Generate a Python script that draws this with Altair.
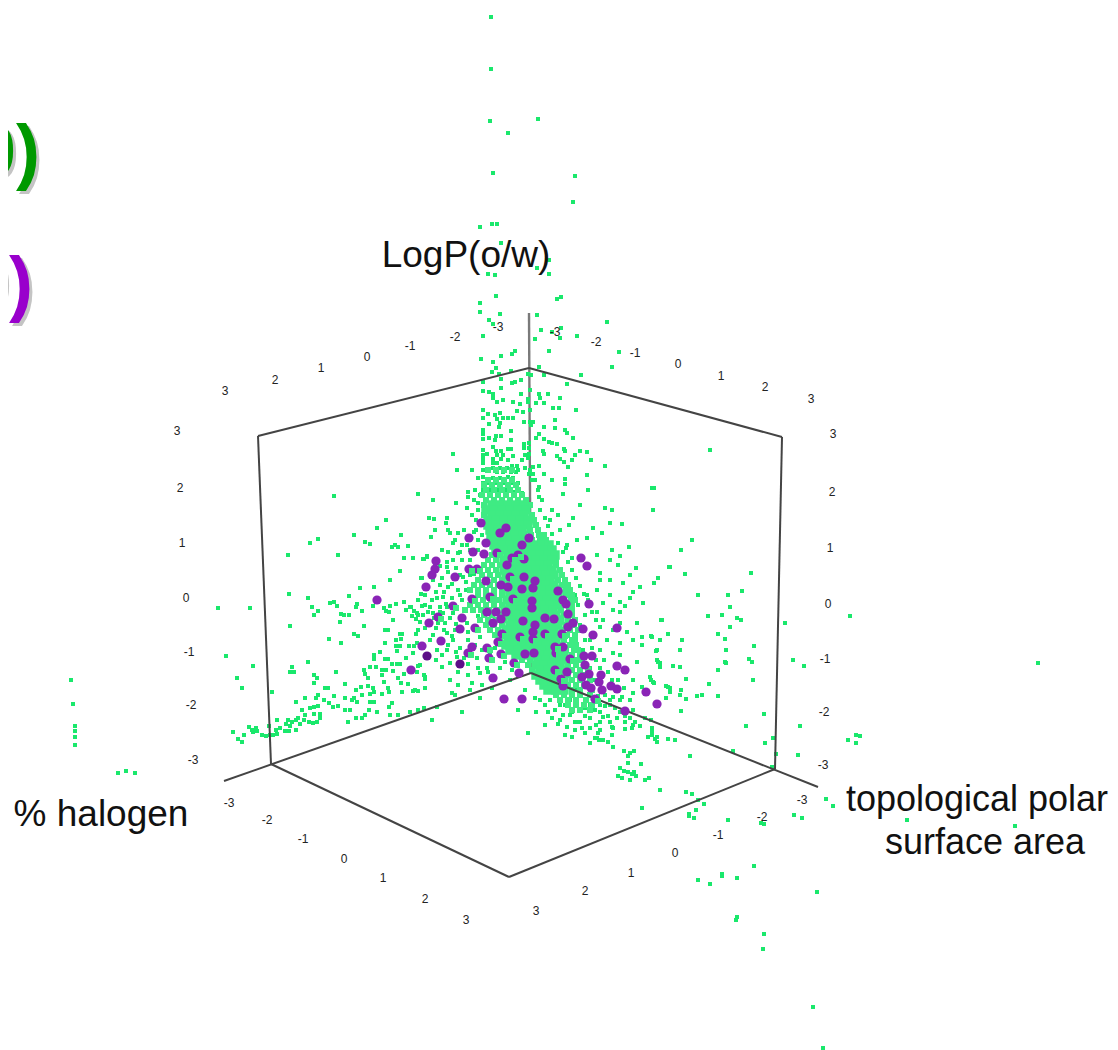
import altair as alt
import pandas as pd

X_DOMAIN = [8, 1110]
Y_DOMAIN = [1050, 8]

TOP_SPRAY = [(491,17),(491,69),(490,121),(508,133),(538,119),(493,173),(575,176),(573,202),(480,227),(492,224),(497,224),(501,243),(549,260),(537,268),(549,274),(488,274),(495,275),(496,296),(557,299),(561,297),(480,303),(480,312),(500,314),(537,315),(489,320),(493,324),(541,330),(552,332),(561,328),(483,336),(535,339),(560,338),(577,336),(607,322),(549,351),(619,352),(612,367),(481,359),(501,356),(512,354),(515,351),(493,362),(496,368),(539,367),(492,372),(499,374),(511,371),(528,374),(531,375),(544,375),(581,375),(483,382),(501,379),(512,383),(515,382),(521,380),(567,384),(483,391),(501,388),(489,392),(493,394),(521,394),(530,390),(539,394),(548,394),(493,398),(560,398),(497,402),(503,400),(513,402),(528,399),(528,402),(536,403),(540,398),(544,403),(520,404),(483,410),(553,408),(559,408),(576,410),(517,411),(523,412),(530,410),(488,414),(483,418),(495,415),(500,413),(497,419),(503,418),(508,418),(513,418),(500,423),(489,424),(524,422),(530,422),(533,422),(555,420),(499,427),(544,427),(555,428),(565,430),(483,430),(511,431),(531,425),(567,433),(483,434),(496,436),(501,436),(489,438),(483,439),(495,440),(511,440),(536,438),(539,434),(544,439),(573,438),(549,442),(552,443),(557,444),(524,444),(529,443),(493,447),(508,449),(511,449),(524,448),(529,448),(564,449),(483,450),(496,451),(501,451),(543,451),(565,451),(580,451),(587,452),(453,454),(544,454),(483,455),(487,454),(497,455),(503,455),(513,456),(525,455),(529,454),(557,456),(575,455),(483,459),(493,459),(501,459),(508,460),(528,458),(560,459),(564,462),(572,460),(591,460),(457,470),(483,463),(493,463),(497,463),(512,466),(517,466),(568,467),(605,466),(525,468),(533,467),(539,466),(587,475),(493,468),(500,468),(507,468),(483,470),(487,471),(497,472),(503,472),(511,472),(516,472),(529,474),(533,474),(544,474),(565,479),(552,480),(483,477),(493,478),(500,478),(508,477),(513,478),(532,480),(483,483),(488,483),(497,483),(503,483),(512,483),(518,483),(565,484),(539,487),(468,492),(468,497),(483,490),(490,490),(498,490),(507,490),(515,492),(522,493),(563,494),(588,490),(539,497)]

LEFT_WING = [(334,496),(418,494),(386,520),(377,528),(354,535),(401,535),(318,539),(310,543),(365,542),(370,544),(392,547),(395,545),(398,547),(408,546),(288,555),(338,555),(404,558),(424,559),(427,556),(400,571),(390,580),(421,578),(360,588),(374,587),(289,594),(308,598),(349,596),(330,603),(334,602),(337,606),(356,607),(357,604),(373,606),(312,607),(318,611),(314,615),(341,614),(344,615),(349,615),(362,611),(218,608),(250,608),(384,608),(386,611),(389,612),(390,606),(396,604),(404,602),(410,607),(414,611),(418,615),(422,606),(421,594),(393,620),(416,619),(340,622),(364,626),(290,626),(354,634),(358,636),(385,630),(388,630),(418,630),(416,634),(400,634),(402,634),(329,639),(341,643),(385,643),(396,640),(401,639),(396,646),(400,646),(409,646),(414,646),(397,651),(226,656),(380,652),(374,655),(374,659),(385,659),(388,659),(406,658),(308,662),(253,666),(392,664),(397,664),(400,664),(370,667),(376,667),(418,666),(364,670),(365,674),(382,670),(386,670),(393,671),(292,667),(292,672),(290,672),(294,672),(336,672),(237,678),(314,675),(317,678),(368,678),(382,675),(398,678),(404,674),(417,672),(424,675),(314,683),(384,682),(345,684),(401,683),(408,684),(425,679),(242,688),(325,688),(328,688),(368,686),(361,687),(356,690),(373,688),(388,688),(413,691),(418,691),(425,688),(272,692),(374,692),(389,692),(402,692),(318,695),(316,698),(305,698),(334,696),(345,698),(354,698),(362,695),(370,694),(382,694),(296,702),(324,700),(329,703),(352,700),(357,702),(370,702),(374,702),(392,703),(333,707),(338,706),(389,707),(302,710),(310,708),(314,707),(318,706),(345,710),(350,710),(369,710),(377,712),(410,712),(418,710),(424,708),(305,715),(314,714),(320,714),(320,718),(365,715),(390,715),(398,715),(362,718),(356,718),(277,720),(298,718),(304,720),(309,722),(313,723),(317,722),(348,722),(288,720),(296,720),(292,722),(286,724),(290,726),(300,724),(269,726),(249,727),(256,728),(252,730),(253,732),(257,731),(280,728),(276,730),(285,731),(296,730),(289,731),(233,732),(262,735),(266,736),(270,735),(273,735),(277,734),(244,735),(238,739),(242,742),(71,680),(73,704),(75,726),(75,731),(75,737),(75,745),(118,773),(126,771),(135,773)]

INNER_LEFT = [(418,494),(468,492),(433,500),(468,497),(456,503),(478,503),(467,508),(429,518),(434,519),(447,518),(446,523),(448,530),(435,530),(458,533),(450,533),(431,537),(453,543),(467,545),(460,552),(442,550),(427,557),(423,559),(413,558),(447,562),(453,560),(422,578),(447,567),(442,578),(448,587),(463,577),(425,595),(437,598),(443,597),(460,595),(404,602),(411,607),(430,607),(440,607),(447,607),(417,613),(423,615),(433,613),(443,613),(453,613),(416,619),(438,623),(445,623),(467,623),(447,633),(455,630),(433,635),(468,632),(430,640),(453,640),(480,637),(437,650),(447,650),(417,643),(413,653),(442,655),(457,657),(477,658),(450,663),(442,667),(420,665),(425,677),(450,680),(468,675),(480,673),(487,668),(458,685),(472,683),(482,685),(437,707),(432,720),(415,690),(452,693),(455,695),(480,698),(535,698),(462,712),(528,733),(578,722),(563,715),(560,720)]

RIGHT_WING = [(652,488),(654,488),(653,510),(580,505),(605,508),(612,510),(573,518),(569,525),(558,515),(552,510),(610,523),(622,524),(593,528),(602,533),(587,538),(577,540),(629,547),(612,550),(567,545),(597,555),(610,560),(620,556),(618,565),(670,567),(636,568),(600,573),(630,575),(658,578),(654,583),(600,580),(610,580),(623,583),(640,587),(633,592),(597,590),(610,595),(630,598),(587,595),(643,603),(603,603),(620,602),(625,606),(613,610),(620,612),(597,612),(662,620),(637,623),(603,620),(620,623),(600,627),(613,630),(627,632),(642,637),(652,637),(668,634),(633,640),(607,640),(620,643),(657,650),(642,645),(600,650),(613,653),(658,662),(673,666),(637,662),(620,655),(650,677),(633,680),(653,682),(668,687),(642,687),(633,693),(622,697),(613,697),(670,692),(633,710),(645,718),(633,725),(613,728),(652,728),(657,737),(597,738),(710,450),(692,540),(681,550),(669,567),(685,574),(751,573),(742,591),(698,595),(728,595),(730,607),(708,616),(722,615),(737,618),(741,620),(661,620),(730,627),(785,623),(850,616),(718,634),(668,634),(651,636),(660,640),(682,640),(725,639),(754,646),(680,650),(656,651),(726,650),(749,659),(752,662),(793,660),(804,666),(657,660),(660,663),(660,667),(673,666),(680,667),(725,662),(726,663),(718,670),(686,679),(753,680),(651,680),(654,683),(709,684),(666,686),(670,688),(681,690),(680,695),(686,699),(697,696),(702,695),(718,696),(666,698),(681,711),(764,714),(746,726),(800,726),(651,720),(773,738),(765,743),(848,740),(856,735),(860,736),(856,743),(652,732),(652,735),(655,739),(657,742),(668,739),(675,740),(733,751),(776,754),(798,755),(690,756),(1038,663)]

LOWER_TAIL = [(560,690),(565,695),(570,700),(575,690),(580,695),(585,700),(590,705),(595,710),(600,712),(605,706),(610,705),(615,708),(620,712),(625,716),(630,718),(635,722),(640,726),(575,705),(580,710),(570,715),(585,716),(590,718),(580,722),(590,728),(600,722),(608,716),(617,718),(625,729),(612,735),(598,733),(585,733),(575,730),(567,727),(572,737),(565,705),(572,712),(585,708),(596,725),(603,717),(610,722),(582,728),(575,722),(600,730),(612,727),(625,722),(632,728),(648,737),(595,738),(599,740),(603,740),(608,742),(590,743),(613,747),(624,751),(634,751),(630,753),(628,756),(628,763),(641,764),(620,768),(624,771),(628,772),(634,772),(632,774),(636,776),(618,776),(622,778),(630,780),(645,780),(649,778),(660,790),(686,792),(692,794),(698,800),(704,804),(642,808),(696,810),(689,814),(689,816),(694,818),(728,820),(761,823),(764,824),(794,815),(802,818),(826,799),(833,806),(772,767),(754,866),(698,880),(710,884),(722,874),(722,876),(737,878),(817,892),(737,917),(736,920),(764,934),(763,949),(813,1007),(823,1048),(907,820),(1015,826)]

HALO = [(470,560),(474,574),(466,582),(458,590),(452,598),(446,604),(440,612),(434,618),(428,612),(450,618),(456,624),(462,600),(470,606),(478,616),(468,640),(475,645),(482,650),(490,655),(495,648),(505,662),(512,670),(500,668),(488,672),(478,668),(468,664),(460,648),(452,636),(444,630),(436,628),(425,628),(420,622),(412,616),(406,610),(474,532),(478,540),(470,550),(462,560),(456,568),(476,520),(478,510),(474,500),(480,495),(472,515),(464,530),(462,545),(458,553),(448,572),(440,585),(436,592),(432,600),(444,592),(452,584),(460,575),(466,590),(470,575),(478,550),(482,535),(476,530),(475,490),(478,478),(472,470),(540,510),(545,518),(548,526),(552,534),(558,543),(563,552),(568,562),(572,570),(576,578),(580,586),(584,594),(588,600),(592,612),(596,620),(590,640),(592,648),(596,660),(600,668),(604,660),(608,672),(612,680),(618,680),(624,688),(630,700),(620,700),(610,700),(598,696),(572,558),(566,548),(560,530),(550,520),(542,500),(538,490),(535,480),(530,470),(522,460),(518,470),(575,595),(578,605),(585,615),(580,625),(585,640),(583,650),(590,668),(595,680),(600,705),(605,695),(540,700),(545,705),(550,700),(555,710),(560,705),(548,712),(552,718),(558,724),(565,735),(440,640),(448,645),(456,652),(464,658),(436,660),(458,672),(470,690),(492,688),(510,680),(525,690),(518,710),(545,725),(536,712),(425,605),(418,600),(433,580),(440,566),(448,552),(455,540)]

CORE = [(488,470),(496,470),(504,470),(512,470),
(488,480),(496,480),(504,480),(512,480),(484,485),(492,485),(500,485),(508,485),(516,485),
(486,490),(494,490),(502,490),(510,490),(518,490),(482,495),(490,495),(498,495),(506,495),(514,495),(522,495),
(486,500),(494,500),(502,500),(510,500),(518,500),(526,500),(484,505),(492,505),(500,505),(508,505),(516,505),(524,505),(530,505),
(486,510),(494,510),(502,510),(510,510),(518,510),(526,510),(484,515),(492,515),(500,515),(508,515),(516,515),(524,515),(532,515),
(488,520),(496,520),(504,520),(512,520),(520,520),(528,520),(534,520),(488,525),(496,525),(504,525),(512,525),(520,525),(528,525),(536,525),
(490,530),(498,530),(506,530),(514,530),(522,530),(530,530),(538,530),(491,535),(499,535),(507,535),(515,535),(523,535),(531,535),(539,535),(544,535),
(492,540),(500,540),(508,540),(516,540),(524,540),(532,540),(540,540),(546,540),(494,545),(502,545),(510,545),(518,545),(526,545),(534,545),(542,545),(549,545),
(496,550),(504,550),(512,550),(520,550),(528,550),(536,550),(544,550),(552,550),(492,555),(500,555),(508,555),(516,555),(524,555),(532,555),(540,555),(548,555),(555,555),
(488,560),(496,560),(504,560),(512,560),(520,560),(528,560),(536,560),(544,560),(552,560),(556,560),(484,565),(492,565),(500,565),(508,565),(516,565),(524,565),(532,565),(540,565),(548,565),(556,565),
(480,570),(488,570),(496,570),(504,570),(512,570),(520,570),(528,570),(536,570),(544,570),(552,570),(560,570),(482,575),(490,575),(498,575),(506,575),(514,575),(522,575),(530,575),(538,575),(546,575),(554,575),(562,575),
(478,580),(486,580),(494,580),(502,580),(510,580),(518,580),(526,580),(534,580),(542,580),(550,580),(558,580),(565,580),(474,585),(482,585),(490,585),(498,585),(506,585),(514,585),(522,585),(530,585),(538,585),(546,585),(554,585),(562,585),(568,585),
(470,590),(478,590),(486,590),(494,590),(502,590),(510,590),(518,590),(526,590),(534,590),(542,590),(550,590),(558,590),(566,590),(570,590),(478,595),(486,595),(494,595),(502,595),(510,595),(518,595),(526,595),(534,595),(542,595),(550,595),(558,595),(566,595),(572,595),
(475,600),(483,600),(491,600),(499,600),(507,600),(515,600),(523,600),(531,600),(539,600),(547,600),(555,600),(563,600),(571,600),(575,600),(470,605),(478,605),(486,605),(494,605),(502,605),(510,605),(518,605),(526,605),(534,605),(542,605),(550,605),(558,605),(566,605),(572,605),
(465,610),(473,610),(481,610),(489,610),(497,610),(505,610),(513,610),(521,610),(529,610),(537,610),(545,610),(553,610),(561,610),(569,610),(572,610),(484,615),(492,615),(500,615),(508,615),(516,615),(524,615),(532,615),(540,615),(548,615),(556,615),(564,615),(572,615),
(480,620),(488,620),(496,620),(504,620),(512,620),(520,620),(528,620),(536,620),(544,620),(552,620),(560,620),(568,620),(575,620),(486,625),(494,625),(502,625),(510,625),(518,625),(526,625),(534,625),(542,625),(550,625),(558,625),(566,625),(574,625),
(490,630),(498,630),(506,630),(514,630),(522,630),(530,630),(538,630),(546,630),(554,630),(562,630),(570,630),(578,630),(495,635),(503,635),(511,635),(519,635),(527,635),(535,635),(543,635),(551,635),(559,635),(567,635),(575,635),
(500,640),(508,640),(516,640),(524,640),(532,640),(540,640),(548,640),(556,640),(564,640),(572,640),(575,640),(506,645),(514,645),(522,645),(530,645),(538,645),(546,645),(554,645),(562,645),(570,645),(576,645),
(510,650),(518,650),(526,650),(534,650),(542,650),(550,650),(558,650),(566,650),(574,650),(578,650),(516,655),(524,655),(532,655),(540,655),(548,655),(556,655),(564,655),(572,655),(580,655),
(522,660),(530,660),(538,660),(546,660),(554,660),(562,660),(570,660),(578,660),(582,660),(528,665),(536,665),(544,665),(552,665),(560,665),(568,665),(576,665),(584,665),
(532,670),(540,670),(548,670),(556,670),(564,670),(572,670),(580,670),(588,670),(536,675),(544,675),(552,675),(560,675),(568,675),(576,675),(584,675),(590,675),
(540,680),(548,680),(556,680),(564,680),(572,680),(580,680),(590,680),(544,685),(552,685),(560,685),(568,685),(576,685),(584,685),
(548,690),(556,690),(564,690),(572,690),(580,690),(592,690),(556,695),(564,695),(572,695),(580,695),(590,695),
(560,700),(568,700),(576,700),(586,700),(596,700),(568,705),(576,705),(584,705),(592,705),
(572,710),(580,710),(590,710)]

# (top, bottom, left, right) of the parts of the cloud that read as solid colour
SOLID_BANDS = [(505,550,486,528),(545,585,503,555),(585,625,505,560),(625,655,505,560),(655,690,533,565)]

PURPLE = [(481,523),(506,528),(500,533),(469,538),(486,543),(529,538),(473,552),(484,554),(497,553),(522,545),(518,555),(512,558),(524,559),(436,561),(435,569),(432,575),(455,577),(426,587),(469,569),(477,569),(507,565),(581,558),(587,566),(486,581),(501,585),(508,587),(524,577),(535,581),(533,588),(522,589),(558,591),(510,577),(472,599),(490,597),(513,599),(532,601),(563,600),(566,604),(589,604),(453,606),(532,608),(487,612),(496,612),(506,612),(501,619),(493,623),(462,618),(429,623),(438,617),(523,621),(545,618),(535,625),(554,619),(568,614),(568,627),(573,623),(617,628),(460,629),(475,628),(583,629),(593,635),(533,632),(533,639),(545,634),(562,634),(520,637),(498,642),(502,634),(441,641),(422,646),(411,670),(472,647),(468,653),(487,648),(489,658),(501,654),(525,654),(534,653),(555,647),(563,647),(556,653),(570,659),(584,656),(592,656),(585,665),(617,666),(625,670),(514,663),(519,673),(493,678),(567,672),(555,670),(561,679),(563,686),(582,677),(589,674),(601,675),(599,682),(586,685),(591,688),(602,690),(611,686),(617,689),(646,692),(657,704),(625,711),(504,699),(522,699),(595,699),(377,600)]
PURPLE_DARK = [(427,656),(460,664)]
GREEN_OVER_PURPLE = [(480,571),(472,571),(515,560),(521,557),(500,555),(513,579),(516,601),(475,601),(493,599),(456,608),(441,619),(478,630),(501,644),(505,636),(536,641),(548,636),(565,636),(523,639),(471,655),(490,650),(492,660),(504,656),(517,665),(558,649),(559,655),(573,661),(558,672),(564,681),(598,701)]

BOX_EDGES = {
    "back_top_left": [(258,436),(529,368)],
    "back_top_right": [(529,368),(782,437)],
    "left_edge": [(258,436),(271,764)],
    "right_edge": [(782,437),(775,769)],
    "floor_back_left": [(224,781),(531,673)],
    "floor_back_right": [(531,673),(818,787)],
    "floor_front_left": [(271,764),(509,877)],
    "floor_front_right": [(509,877),(775,769)],
}
BACK_POST = [(529,313),(531,673)]

TICKS_TOP_LEFT = [("3",225,391),("2",275,380),("1",321,368),("0",367,357),("-1",410,346),("-2",455,337),("-3",498,327)]
TICKS_TOP_RIGHT = [("-3",555,332),("-2",596,342),("-1",635,353),("0",678,364),("1",721,376),("2",765,387),("3",811,399)]
TICKS_LEFT = [("3",177,431),("2",180,488),("1",182,543),("0",186,598),("-1",189,652),("-2",191,705),("-3",193,760)]
TICKS_RIGHT = [("3",833,434),("2",832,492),("1",830,548),("0",828,604),("-1",825,659),("-2",824,712),("-3",823,765)]
TICKS_BOTTOM_LEFT = [("-3",229,803),("-2",267,820),("-1",303,839),("0",344,859),("1",383,878),("2",425,899),("3",466,920)]
TICKS_BOTTOM_RIGHT = [("3",536,911),("2",585,891),("1",631,873),("0",675,853),("-1",718,835),("-2",762,817),("-3",802,800)]

AXIS_TITLES = [("LogP(o/w)",466,256),("% halogen",101,815)]
RIGHT_TITLE = [("topological polar",977,800),("surface area",985,843)]
GREEN_HEAD = ("0)", 40, 176)
PURPLE_HEAD = ("0)", 33, 308)

def xs():
    return alt.X("x:Q", scale=alt.Scale(domain=X_DOMAIN, nice=False, zero=False), axis=None)
def ys():
    return alt.Y("y:Q", scale=alt.Scale(domain=Y_DOMAIN, nice=False, zero=False), axis=None)

def pts(*groups):
    rows = [p for g in groups for p in g]
    return pd.DataFrame(rows, columns=["x", "y"])

def txt(rows):
    return pd.DataFrame(rows, columns=["t", "x", "y"])

def is_solid(p):
    return any(t <= p[1] <= b and l <= p[0] <= r for t, b, l, r in SOLID_BANDS)

edges = pd.DataFrame([{"edge": k, "x": p[0], "y": p[1]} for k, v in BOX_EDGES.items() for p in v])
post = pts(BACK_POST)

post_layer = alt.Chart(post).mark_line(color="#7a7a7a", strokeWidth=2.4).encode(x=xs(), y=ys())
edge_layer = alt.Chart(edges).mark_line(color="#444444", strokeWidth=2).encode(x=xs(), y=ys(), detail="edge:N")

sparse = alt.Chart(pts(TOP_SPRAY, LEFT_WING, INNER_LEFT, RIGHT_WING, LOWER_TAIL, HALO)).mark_square(
    color="#1ae86c", size=16, opacity=1).encode(x=xs(), y=ys())
core_solid = alt.Chart(pts([p for p in CORE if is_solid(p)])).mark_square(color="#3feb83", size=90, opacity=1).encode(x=xs(), y=ys())
core_edge = alt.Chart(pts([p for p in CORE if not is_solid(p)])).mark_square(color="#3feb83", size=36, opacity=1).encode(x=xs(), y=ys())
purple = alt.Chart(pts(PURPLE)).mark_circle(color="#8a24b6", size=85, opacity=1).encode(x=xs(), y=ys())
purple_dark = alt.Chart(pts(PURPLE_DARK)).mark_circle(color="#5d0e88", size=85, opacity=1).encode(x=xs(), y=ys())
over = alt.Chart(pts(GREEN_OVER_PURPLE)).mark_square(color="#3feb83", size=36, opacity=1).encode(x=xs(), y=ys())

ticks = alt.Chart(txt(TICKS_TOP_LEFT + TICKS_TOP_RIGHT + TICKS_LEFT + TICKS_RIGHT + TICKS_BOTTOM_LEFT + TICKS_BOTTOM_RIGHT)).mark_text(
    font="Liberation Sans", fontSize=12, color="#222222", align="center", baseline="middle"
).encode(x=xs(), y=ys(), text="t:N")
titles = alt.Chart(txt(AXIS_TITLES)).mark_text(
    font="Liberation Sans", fontSize=37, color="#111111", align="center", baseline="middle"
).encode(x=xs(), y=ys(), text="t:N")
right_title = alt.Chart(txt(RIGHT_TITLE)).mark_text(
    font="Liberation Sans", fontSize=36, color="#111111", align="center", baseline="middle"
).encode(x=xs(), y=ys(), text="t:N")

def head(item, color):
    t, x, y = item
    base = dict(font="Liberation Sans", fontSize=72, fontWeight="bold", align="right", baseline="alphabetic")
    shadow = alt.Chart(txt([(t, x + 3, y + 3)])).mark_text(color="#c4c4c4", **base).encode(x=xs(), y=ys(), text="t:N")
    front = alt.Chart(txt([(t, x, y)])).mark_text(color=color, **base).encode(x=xs(), y=ys(), text="t:N")
    return [shadow, front]

chart = alt.layer(
    post_layer, sparse, core_edge, core_solid, edge_layer, purple, purple_dark, over, ticks, titles, right_title,
    *head(GREEN_HEAD, "#009900"), *head(PURPLE_HEAD, "#9900cc"),
).properties(
    width=X_DOMAIN[1] - X_DOMAIN[0], height=Y_DOMAIN[0] - Y_DOMAIN[1],
    padding=0, autosize=alt.AutoSizeParams(type="none"),
    background="white", view=alt.ViewConfig(stroke=None),
)

chart.save("out.html", embed_options={"renderer": "svg", "actions": False})
